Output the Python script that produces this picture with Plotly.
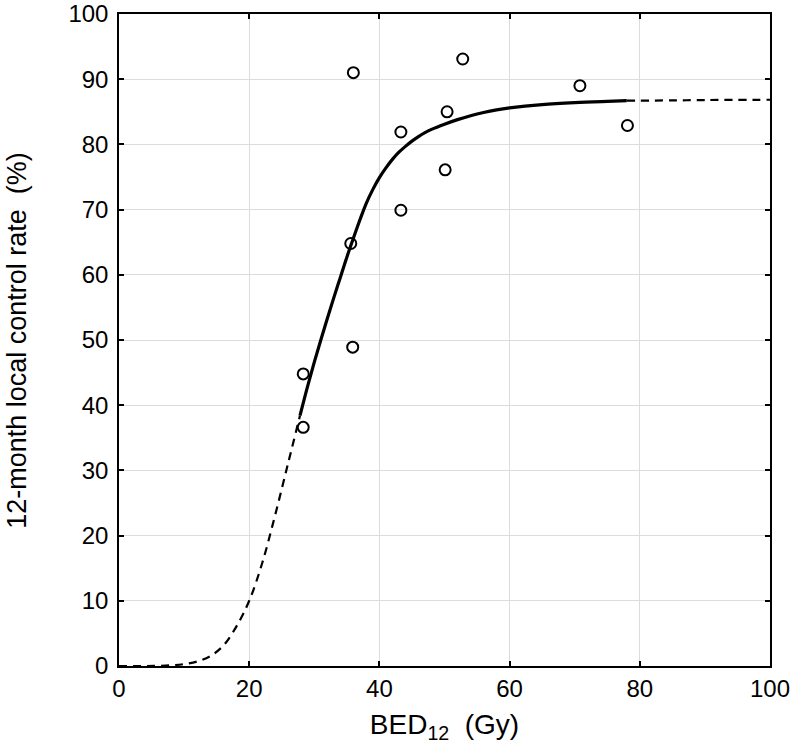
import plotly.graph_objects as go

# Observed data points (BED12 in Gy, 12-month local control %)
obs_x = [36.0, 52.8, 70.8, 78.1, 50.4, 43.3, 50.1, 43.3, 35.6, 35.9, 28.3, 28.3]
obs_y = [91.0, 93.1, 89.0, 82.9, 85.0, 81.9, 76.1, 69.9, 64.8, 48.9, 44.8, 36.6]

# Fitted curve: dashed low extrapolation
low_x = [0, 4, 8, 10, 12, 14, 16, 18, 20, 22, 24, 26, 27.8]
low_y = [0, 0, 0.1, 0.3, 0.7, 1.5, 3.1, 6.0, 10.0, 15.8, 23.2, 31.2, 38.4]

# Fitted curve, solid part over the data range
fit_x = [27.8, 29, 30, 31, 32, 33, 34, 35, 36, 37, 38, 39, 40, 41, 42, 43, 44, 45, 46, 47, 48,
         50, 52, 54, 56, 58, 60, 65, 70, 75, 78]
fit_y = [38.4, 43.0, 46.6, 50.0, 53.3, 56.5, 59.6, 62.7, 65.6, 68.4, 71.0, 73.1, 74.9, 76.4, 77.7,
         78.8, 79.7, 80.5, 81.2, 81.8, 82.3, 83.1, 83.8, 84.4, 84.9, 85.3, 85.6, 86.1, 86.4, 86.6, 86.7]

# Fitted curve, dashed high extrapolation
high_x = [78, 85, 90, 100]
high_y = [86.7, 86.75, 86.8, 86.85]

x_ticks = [0, 20, 40, 60, 80, 100]
y_ticks = [0, 10, 20, 30, 40, 50, 60, 70, 80, 90, 100]

X_TITLE = "BED<sub>12</sub>  (Gy)"
Y_TITLE = "12-month local control rate  (%)"

FONT = "Liberation Sans, Arial, Helvetica, sans-serif"

fig = go.Figure()
fig.add_trace(go.Scatter(x=low_x, y=low_y, mode="lines", line=dict(color="black", width=2.2, dash="8px,6px", shape="spline"), showlegend=False))
fig.add_trace(go.Scatter(x=high_x, y=high_y, mode="lines", line=dict(color="black", width=2.2, dash="8px,6px", shape="spline"), showlegend=False))
fig.add_trace(go.Scatter(x=fit_x, y=fit_y, mode="lines", line=dict(color="black", width=3.2, shape="spline"), showlegend=False))
fig.add_trace(go.Scatter(x=obs_x, y=obs_y, mode="markers",
                         marker=dict(symbol="circle-open", size=11, color="black", line=dict(width=2, color="black")),
                         showlegend=False))

axis_common = dict(
    showgrid=True, gridcolor="#dcdcdc", gridwidth=1,
    showline=True, linecolor="black", linewidth=1.5, mirror="ticks",
    ticks="inside", ticklen=5, tickcolor="black", tickwidth=1.5,
    zeroline=False, tickfont=dict(family=FONT, size=24, color="black"),
)

fig.update_xaxes(range=[0, 100], tickvals=x_ticks, ticktext=[str(v) for v in x_ticks],
                 title=dict(text=X_TITLE, font=dict(family=FONT, size=28, color="black"), standoff=14),
                 **axis_common)
fig.update_yaxes(range=[0, 100], tickvals=y_ticks, ticktext=[str(v) for v in y_ticks],
                 ticklabelstandoff=4,
                 **axis_common)

fig.add_annotation(text=Y_TITLE, textangle=-90, xref="paper", yref="paper",
                   x=-0.157, y=0.5, xanchor="center", yanchor="middle", showarrow=False,
                   font=dict(family=FONT, size=27, color="black"))

fig.update_layout(
    width=793, height=751,
    margin=dict(l=119, r=23, t=14, b=85, autoexpand=False),
    plot_bgcolor="white", paper_bgcolor="white",
    font=dict(family=FONT, color="black"),
)

fig.write_html("out.html", config={"displayModeBar": False},
               post_script="document.body.style.margin='0';")
